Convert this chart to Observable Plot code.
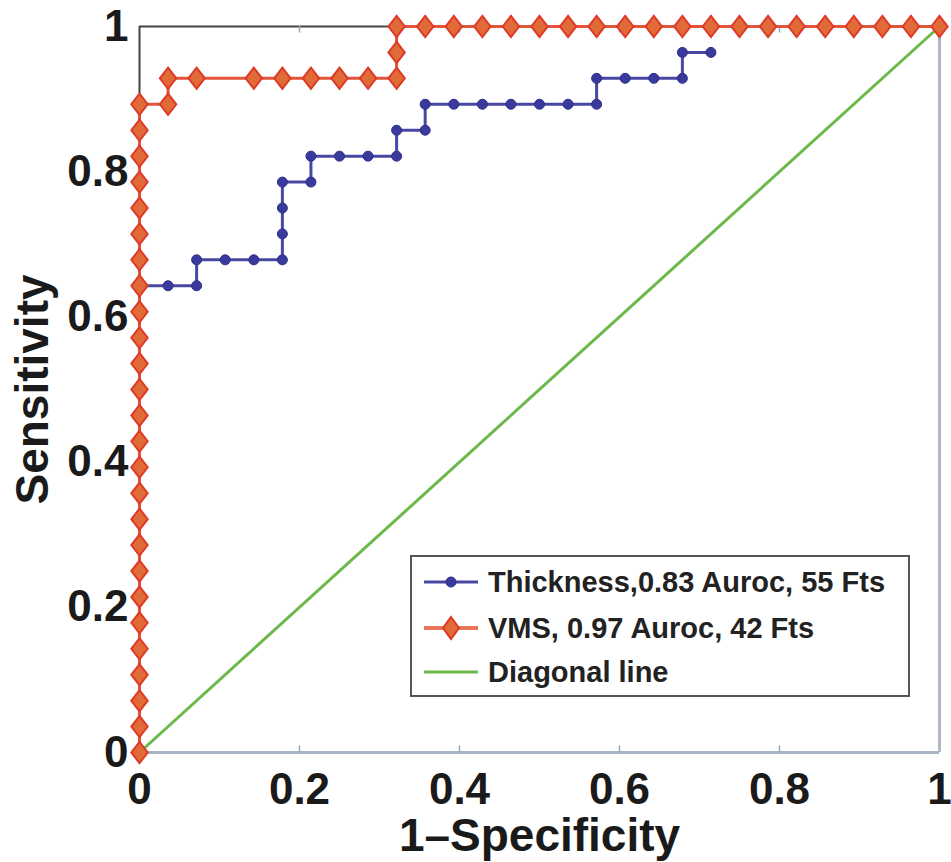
<!DOCTYPE html>
<html><head><meta charset="utf-8">
<script src="https://cdn.jsdelivr.net/npm/d3@7"></script>
<script src="https://cdn.jsdelivr.net/npm/@observablehq/plot@0.6"></script>
<style>
body{margin:0;background:#fff;}
#wrap{position:relative;width:951px;height:862px;}
[aria-label="x-axis label"],[aria-label="y-axis label"]{font-size:46px;}
.legend{position:absolute;left:410px;top:555px;width:500px;height:142px;border:2px solid #555;box-sizing:border-box;background:#fff;font:bold 29px "Liberation Sans",Arial,sans-serif;color:#222;}
.row{position:absolute;left:10px;height:40px;display:flex;align-items:center;white-space:nowrap;}
.row svg{margin-right:8px;}
</style></head><body><div id="wrap"></div>
<script>
// Tick values / labels
const xTicks = [0, 0.2, 0.4, 0.6, 0.8, 1];
const xTickLabels = ["0", "0.2", "0.4", "0.6", "0.8", "1"];
const yTicks = [0, 0.2, 0.4, 0.6, 0.8, 1];
const yTickLabels = ["0", "0.2", "0.4", "0.6", "0.8", "1"];

// Thickness ROC (blue, circles)
const thickX = [0, 0.0357, 0.0714, 0.0714, 0.1071, 0.1429, 0.1786, 0.1786, 0.1786, 0.1786, 0.2143, 0.2143, 0.25, 0.2857, 0.3214, 0.3214, 0.3571, 0.3571, 0.3929, 0.4286, 0.4643, 0.5, 0.5357, 0.5714, 0.5714, 0.6071, 0.6429, 0.6786, 0.6786, 0.7143];
const thickY = [0.6429, 0.6429, 0.6429, 0.6786, 0.6786, 0.6786, 0.6786, 0.7143, 0.75, 0.7857, 0.7857, 0.8214, 0.8214, 0.8214, 0.8214, 0.8571, 0.8571, 0.8929, 0.8929, 0.8929, 0.8929, 0.8929, 0.8929, 0.8929, 0.9286, 0.9286, 0.9286, 0.9286, 0.9643, 0.9643];

// VMS ROC (red, diamonds)
const vmsX = [0, 0, 0, 0, 0, 0, 0, 0, 0, 0, 0, 0, 0, 0, 0, 0, 0, 0, 0, 0, 0, 0, 0, 0, 0, 0,
  0.0357, 0.0357, 0.0714, 0.1429, 0.1786, 0.2143, 0.25, 0.2857, 0.3214, 0.3214, 0.3214,
  0.3571, 0.3929, 0.4286, 0.4643, 0.5, 0.5357, 0.5714, 0.6071, 0.6429, 0.6786, 0.7143, 0.75, 0.7857, 0.8214, 0.8571, 0.8929, 0.9286, 0.9643, 1];
const vmsY = [0, 0.0357, 0.0714, 0.1071, 0.1429, 0.1786, 0.2143, 0.25, 0.2857, 0.3214, 0.3571, 0.3929, 0.4286, 0.4643, 0.5, 0.5357, 0.5714, 0.6071, 0.6429, 0.6786, 0.7143, 0.75, 0.7857, 0.8214, 0.8571, 0.8929,
  0.8929, 0.9286, 0.9286, 0.9286, 0.9286, 0.9286, 0.9286, 0.9286, 0.9286, 0.9643, 1,
  1, 1, 1, 1, 1, 1, 1, 1, 1, 1, 1, 1, 1, 1, 1, 1, 1, 1, 1];

// Diagonal reference
const diagX = [0, 1];
const diagY = [0, 1];

const legendLabels = ["Thickness,0.83 Auroc, 55 Fts", "VMS, 0.97 Auroc, 42 Fts", "Diagonal line"];

const thick = thickX.map((x, i) => ({x, y: thickY[i]}));
const vms = vmsX.map((x, i) => ({x, y: vmsY[i]}));
const diag = diagX.map((x, i) => ({x, y: diagY[i]}));

const BLUE = "#3a3a9c", RED = "#dd3a28", GREEN = "#6cb84a";

// MATLAB-like diamond marker (slightly taller than wide)
const matDiamond = {
  draw(ctx, size) {
    const s = Math.sqrt(size);
    const h = s * 0.88, w = s * 0.68;
    ctx.moveTo(0, -h); ctx.lineTo(w, 0); ctx.lineTo(0, h); ctx.lineTo(-w, 0); ctx.closePath();
  }
};

const plot = Plot.plot({
  width: 951, height: 862,
  marginLeft: 139, marginRight: 12, marginTop: 26, marginBottom: 110,
  style: {fontFamily: '"Liberation Sans", Arial, sans-serif', fontWeight: "bold", fontSize: "44px", color: "#1a1a1a", background: "white", overflow: "visible"},
  x: {domain: [0, 1], ticks: xTicks, tickFormat: (d, i) => xTickLabels[i], tickSize: 0, tickPadding: 20,
      label: "1–Specificity", labelAnchor: "center", labelOffset: 98, labelArrow: "none"},
  y: {domain: [0, 1], ticks: yTicks, tickFormat: (d, i) => yTickLabels[i], tickSize: 0, tickPadding: 11,
      label: "Sensitivity", labelAnchor: "center", labelOffset: 124, labelArrow: "none"},
  marks: [
    Plot.ruleY([0], {stroke: "#a8b4c6", strokeWidth: 3}),
    Plot.ruleX([1], {stroke: "#b0b8c8", strokeWidth: 3}),
    Plot.ruleY([1], {stroke: "#444", strokeWidth: 2}),
    Plot.ruleX([0], {stroke: "#444", strokeWidth: 2}),
    Plot.ruleX(xTicks.slice(1, -1), {x: d => d, y1: 0, y2: 0.009, stroke: "#9aa6b8", strokeWidth: 1.5}),
    Plot.ruleX(xTicks.slice(1, -1), {x: d => d, y1: 1, y2: 0.991, stroke: "#9aa6b8", strokeWidth: 1.5}),
    Plot.line(diag, {x: "x", y: "y", stroke: GREEN, strokeWidth: 3}),
    Plot.line(thick, {x: "x", y: "y", stroke: "#4848a4", strokeWidth: 3}),
    Plot.dot(thick, {x: "x", y: "y", r: 5, fill: BLUE, stroke: "#2e2e8a", strokeWidth: 1}),
    Plot.line(vms, {x: "x", y: "y", stroke: "#e2553a", strokeWidth: 3}),
    Plot.dot(vms, {x: "x", y: "y", symbol: matDiamond, r: 6.8, fill: "#e06a38", stroke: RED, strokeWidth: 2})
  ]
});
const wrap = document.getElementById("wrap");
wrap.appendChild(plot);

// Legend
const legend = document.createElement("div");
legend.className = "legend";
const samples = [
  `<svg width="58" height="20"><line x1="2" y1="10" x2="56" y2="10" stroke="#4848a4" stroke-width="3"/><circle cx="29" cy="10" r="5" fill="${BLUE}" stroke="#2e2e8a"/></svg>`,
  `<svg width="58" height="26"><line x1="2" y1="13" x2="56" y2="13" stroke="#e8775a" stroke-width="4"/><path d="M29,2 L37,13 L29,24 L21,13 Z" fill="#e06a38" stroke="${RED}" stroke-width="2"/></svg>`,
  `<svg width="58" height="20"><line x1="2" y1="10" x2="56" y2="10" stroke="${GREEN}" stroke-width="3"/></svg>`
];
const rowTops = [5, 51, 95];
legendLabels.forEach((t, i) => {
  const r = document.createElement("div");
  r.className = "row";
  r.style.top = rowTops[i] + "px";
  r.innerHTML = samples[i] + `<span>${t}</span>`;
  legend.appendChild(r);
});
wrap.appendChild(legend);
</script></body></html>
